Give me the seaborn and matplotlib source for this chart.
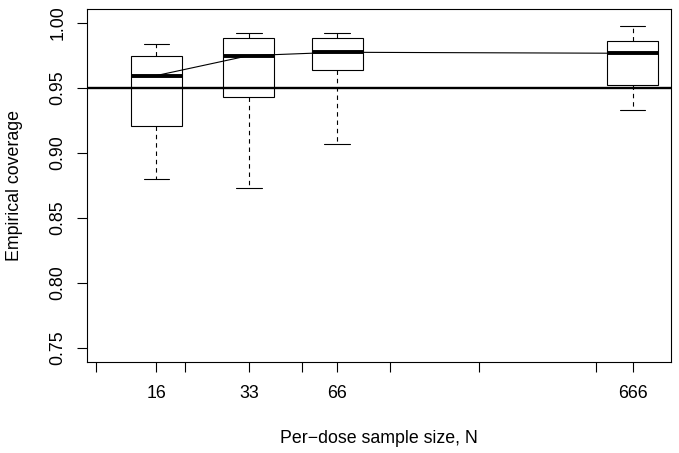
import numpy as np
import pandas as pd
import matplotlib
matplotlib.use("Agg")
import matplotlib.pyplot as plt
import seaborn as sns
from matplotlib.ticker import NullFormatter

# ---- data ----
sample_sizes = [16, 33, 66, 666]
whisker_low = [0.8800, 0.8733, 0.9071, 0.9332]
q1 = [0.9209, 0.9432, 0.9637, 0.9519]
medians = [0.9594, 0.9747, 0.9773, 0.9765]
q3 = [0.9747, 0.9885, 0.9885, 0.9857]
whisker_high = [0.9833, 0.9919, 0.9921, 0.9977]
trend = [0.9594, 0.9747, 0.9773, 0.9765]
target = 0.95
unlabeled_ticks = [10, 20, 50, 100, 200, 500]
labeled_ticks = [16, 33, 66, 666]
y_ticks = [0.75, 0.80, 0.85, 0.90, 0.95, 1.00]
y_tick_labels = ["0.75", "0.80", "0.85", "0.90", "0.95", "1.00"]

# five-number summaries as long-form data
rows = []
for n, lo, a, m, b, hi in zip(sample_sizes, whisker_low, q1, medians, q3, whisker_high):
    for v in (lo, a, m, b, hi):
        rows.append({"N": n, "coverage": v})
df = pd.DataFrame(rows)

sns.set_style("ticks")
plt.rcParams["font.family"] = ["Liberation Sans", "DejaVu Sans"]
FS = 12.8

fig = plt.figure(figsize=(6.79, 4.53), dpi=100)
ax = fig.add_axes([0.1286, 0.2015, 0.8596, 0.778])

sns.boxplot(
    data=df, x="N", y="coverage", native_scale=True, log_scale=(True, False),
    orient="x", width=0.58, whis=(0, 100), color="white", linecolor="black",
    linewidth=0.8, showfliers=False, saturation=1,
    medianprops=dict(linewidth=2.8, color="black"),
    whiskerprops=dict(linestyle=(0, (4, 3.5)), linewidth=0.8, color="black"),
    capprops=dict(linewidth=0.8, color="black"),
    ax=ax,
)

sns.lineplot(x=sample_sizes, y=trend, color="black", linewidth=0.8, ax=ax, zorder=4)
ax.axhline(target, color="black", linewidth=1.7, zorder=5)

ax.set_xscale("log")
ax.set_xlim(9.32, 900)
ax.set_ylim(0.7396, 1.0103)

ax.set_xticks(labeled_ticks, labels=[str(v) for v in labeled_ticks])
ax.set_xticks(unlabeled_ticks, minor=True)
ax.xaxis.set_minor_formatter(NullFormatter())
ax.set_yticks(y_ticks, labels=y_tick_labels)
for lab in ax.get_yticklabels():
    lab.set_rotation(90)
    lab.set_va("center")

ax.tick_params(which="both", direction="out", length=7.5, width=0.8, color="black",
               labelsize=FS, labelcolor="black")
ax.tick_params(axis="x", which="both", pad=9)
ax.tick_params(axis="y", which="both", pad=7.5)

for s in ax.spines.values():
    s.set_visible(True)
    s.set_color("black")
    s.set_linewidth(0.8)

ax.set_xlabel("Per\u2212dose sample size, N", fontsize=FS, color="black")
ax.set_ylabel("Empirical coverage", fontsize=FS, color="black")
ax.xaxis.set_label_coords(0.5, -0.2165)
ax.xaxis.label.set_va("center")
ax.yaxis.set_label_coords(-0.1256, 0.5)
ax.yaxis.label.set_va("center")

fig.savefig("out.png", dpi=100, facecolor="white")
